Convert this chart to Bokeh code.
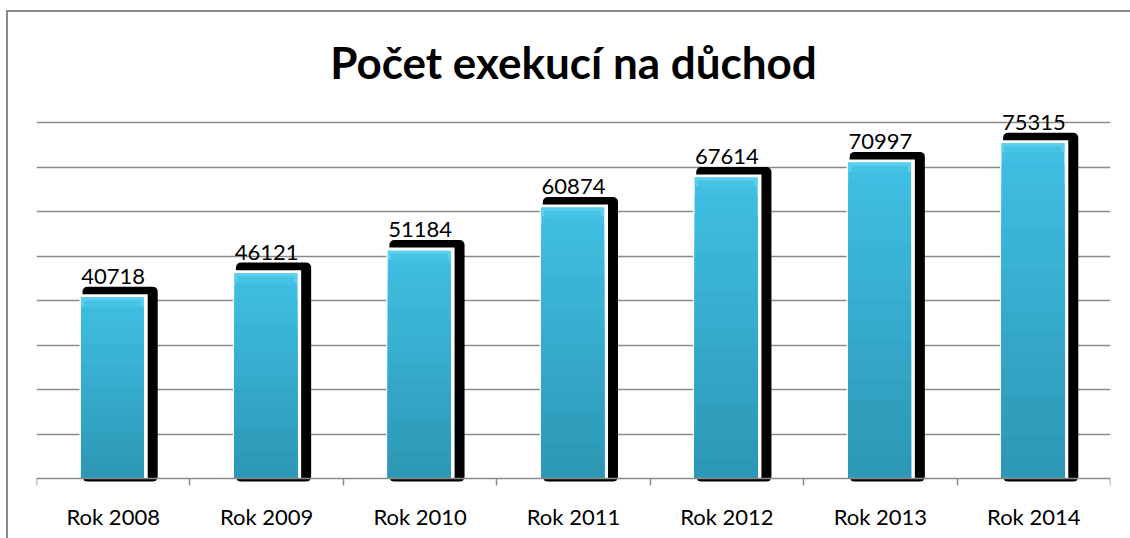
import numpy as np
from bokeh.plotting import figure
from bokeh.models import Range1d, FixedTicker, LinearAxis, ColumnDataSource
from bokeh.transform import dodge
from bokeh.core.properties import value
from bokeh.embed import file_html
from bokeh.resources import INLINE

# ---- data ----
categories = ["Rok 2008", "Rok 2009", "Rok 2010", "Rok 2011", "Rok 2012", "Rok 2013", "Rok 2014"]
counts = [40718, 46121, 51184, 60874, 67614, 70997, 75315]
grid_values = [10000, 20000, 30000, 40000, 50000, 60000, 70000, 80000]
title_text = "Počet exekucí na důchod"

n = len(categories)
centers = [i + 0.5 for i in range(n)]
bounds = list(range(n + 1))

GRAY = "#8a8a8a"
FONT = "Lato"

p = figure(width=1120, height=522, output_backend="svg", toolbar_location=None,
           x_range=Range1d(0, n), y_range=Range1d(-12584, 86742),
           x_axis_location=None, y_axis_location=None,
           min_border_left=28, min_border_right=18, min_border_bottom=0,
           min_border_top=80)
p.outline_line_color = None
p.background_fill_color = "white"
p.border_fill_color = "white"

p.title.text = title_text
p.title.align = "center"
p.title.text_font = FONT
p.title.text_font_style = "bold"
p.title.text_font_size = "44px"
p.title.text_color = "black"
p.title.standoff = 9

# grid
p.xgrid.visible = False
p.ygrid.ticker = FixedTicker(ticks=grid_values)
p.ygrid.grid_line_color = GRAY
p.ygrid.grid_line_width = 1.5

# x axis with category boundary ticks, fixed at zero inside the frame
xaxis = LinearAxis(ticker=FixedTicker(ticks=centers, minor_ticks=bounds), fixed_location=0)
xaxis.major_label_overrides = {c: lab for c, lab in zip(centers, categories)}
xaxis.major_tick_line_color = None
xaxis.major_tick_out = 0
xaxis.major_tick_in = 0
xaxis.minor_tick_line_color = GRAY
xaxis.minor_tick_line_width = 1.5
xaxis.minor_tick_in = 0
xaxis.minor_tick_out = 7
xaxis.axis_line_color = GRAY
xaxis.axis_line_width = 1.5
xaxis.major_label_text_font = FONT
xaxis.major_label_text_font_size = "22px"
xaxis.major_label_text_color = "black"
xaxis.major_label_standoff = 17
p.add_layout(xaxis, "below")

src = ColumnDataSource(dict(x=centers, v=counts, lab=[str(c) for c in counts]))

# black shadow
p.quad(left=dodge("x", -0.2), right=dodge("x", 0.29), bottom=-700,
       top=dodge("v", 2400), source=src, fill_color="black", line_color=None,
       border_radius=5)
# white rim
p.quad(left=dodge("x", -0.22), right=dodge("x", 0.225), bottom=0,
       top=dodge("v", 700), source=src, fill_color="white", line_color=None)

# cyan bar as overlapping vertical gradient layers (tallest first)
top_col = np.array([0x40, 0xC0, 0xE4])
bot_col = np.array([0x2C, 0x96, 0xB4])
N = 16
for k in range(N - 1, -1, -1):
    t = (k + 0.5) / N
    c = bot_col + (top_col - bot_col) * t
    col = "#%02x%02x%02x" % tuple(int(round(q)) for q in c)
    s = ColumnDataSource(dict(x=centers, t=[v * (k + 1) / N for v in counts]))
    p.quad(left=dodge("x", -0.21), right=dodge("x", 0.2), bottom=0, top="t",
           source=s, fill_color=col, line_color=None)

# top bevel highlight
p.quad(left=dodge("x", -0.21), right=dodge("x", 0.2), bottom=dodge("v", -2000),
       top="v", source=src, fill_color="#5ccfee", line_color=None)
p.quad(left=dodge("x", -0.19), right=dodge("x", 0.18), bottom=dodge("v", -2000),
       top=dodge("v", -700), source=src, fill_color="#46c2e4", line_color=None)

# value labels
p.text(x="x", y=dodge("v", 3000), text="lab", source=src, text_align="center",
       text_baseline="bottom", text_font=value(FONT), text_font_size="22px",
       text_color="black")

page_css = ("<style>html, body { overflow: hidden !important; } "
            "body { margin: 10px 0 0 6px !important; "
            "border-top: 2px solid #8a8a8a; border-left: 2px solid #8a8a8a; }</style>")
html = file_html(p, INLINE)
html = html.replace("</head>", page_css + "</head>", 1)
open("out.html", "w").write(html)
